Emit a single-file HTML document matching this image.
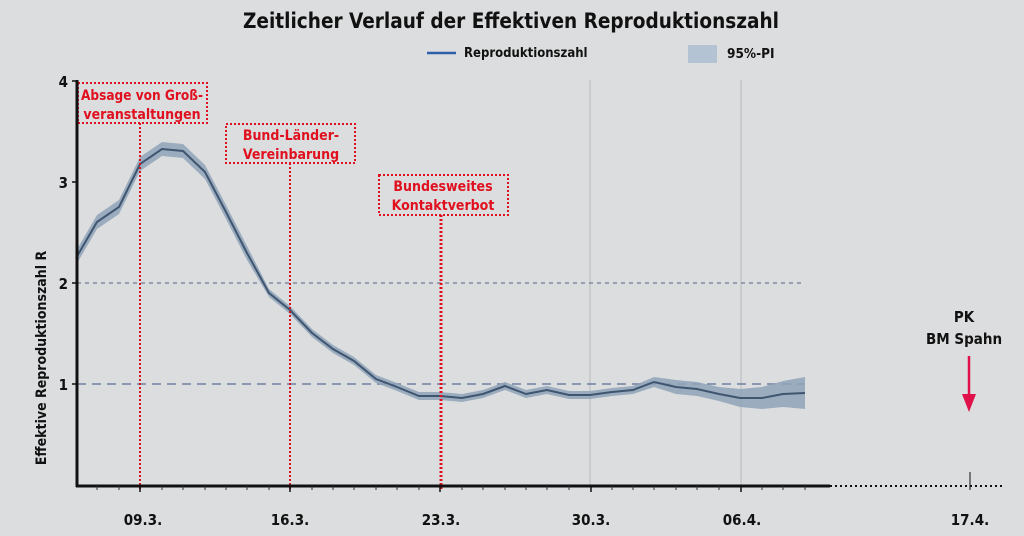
<!DOCTYPE html>
<html><head><meta charset="utf-8"><style>
html,body{margin:0;padding:0;background:#dcddde;}
svg{display:block;font-family:"DejaVu Sans Condensed","Liberation Sans",sans-serif;font-weight:bold;}
</style></head><body>
<svg width="1024" height="536" viewBox="0 0 1024 536" xmlns="http://www.w3.org/2000/svg">
<rect width="1024" height="536" fill="#dcddde"/>
<text x="511" y="28" font-size="21" text-anchor="middle" textLength="536" lengthAdjust="spacingAndGlyphs" fill="#111">Zeitlicher Verlauf der Effektiven Reproduktionszahl</text>
<line x1="427" y1="53" x2="456" y2="53" stroke="#2f5fa8" stroke-width="2.5"/>
<text x="464" y="57" font-size="13" fill="#111">Reproduktionszahl</text>
<rect x="688" y="45" width="29" height="18" fill="#b3c3d3"/>
<text x="727" y="58" font-size="13.5" fill="#111">95%-PI</text>
<line x1="590" y1="80" x2="590" y2="486" stroke="#c4c5c7" stroke-width="1.5"/>
<line x1="741" y1="80" x2="741" y2="486" stroke="#c4c5c7" stroke-width="1.5"/>
<line x1="77" y1="283" x2="805" y2="283" stroke="#6e7d94" stroke-width="1.2" stroke-dasharray="4,4"/>
<line x1="77" y1="384" x2="805" y2="384" stroke="#6e80a0" stroke-width="1.5" stroke-dasharray="9,6"/>
<polygon fill="#8ea3b8" opacity="0.85" points="76,251 97,215 119,200 140,157 162,142 183,144 205,165 226,205 247,246 269,289 290,306 312,329 333,345 354,357 376,375 397,383 419,392 440,392 462,394 483,390 505,382 526,390 547,386 569,391 590,391 612,388 633,386 654,377 676,380 697,382 719,387 740,389 762,387 783,381 805,377 805,409 783,407 762,409 740,407 719,401 697,396 676,394 654,387 633,394 612,396 590,399 569,399 547,394 526,398 505,390 483,398 462,402 440,400 419,400 397,391 376,383 354,365 333,353 312,337 290,314 269,297 247,260 226,219 205,179 183,158 162,156 140,171 119,214 97,229 76,265"/>
<polyline fill="none" stroke="#3f5570" stroke-width="2" points="76,258 97,222 119,207 140,164 162,149 183,151 205,172 226,212 247,253 269,293 290,310 312,333 333,349 354,361 376,379 397,387 419,396 440,396 462,398 483,394 505,386 526,394 547,390 569,395 590,395 612,392 633,390 654,382 676,387 697,389 719,394 740,398 762,398 783,394 805,393"/>
<g stroke="#e0101e" stroke-width="2" stroke-dasharray="2,2" fill="none">
<line x1="140" y1="123" x2="140" y2="490"/>
<line x1="290" y1="163" x2="290" y2="490"/>
<line x1="441" y1="215" x2="441" y2="490" stroke-width="3"/>
<rect x="78" y="83" width="129" height="40"/>
<rect x="226" y="124" width="129" height="39"/>
<rect x="379" y="175" width="129" height="40"/>
</g>
<g fill="#e0101e" font-size="14" text-anchor="middle">
<text x="142" y="100" textLength="122" lengthAdjust="spacingAndGlyphs">Absage von Groß-</text>
<text x="142" y="119">veranstaltungen</text>
<text x="291" y="140">Bund-Länder-</text>
<text x="291" y="159">Vereinbarung</text>
<text x="443" y="191">Bundesweites</text>
<text x="443" y="210">Kontaktverbot</text>
</g>
<line x1="77" y1="80" x2="77" y2="487" stroke="#111" stroke-width="3"/>
<line x1="76" y1="486" x2="830" y2="486" stroke="#111" stroke-width="3"/>
<line x1="830" y1="486" x2="1002" y2="486" stroke="#111" stroke-width="2" stroke-dasharray="2,3"/>
<line x1="970" y1="472" x2="970" y2="490" stroke="#111" stroke-width="1"/>
<g stroke="#333" stroke-width="1">
<line x1="97" y1="486" x2="97" y2="490"/><line x1="119" y1="486" x2="119" y2="490"/><line x1="162" y1="486" x2="162" y2="490"/><line x1="183" y1="486" x2="183" y2="490"/><line x1="205" y1="486" x2="205" y2="490"/><line x1="226" y1="486" x2="226" y2="490"/><line x1="247" y1="486" x2="247" y2="490"/><line x1="269" y1="486" x2="269" y2="490"/><line x1="312" y1="486" x2="312" y2="490"/><line x1="333" y1="486" x2="333" y2="490"/><line x1="354" y1="486" x2="354" y2="490"/><line x1="376" y1="486" x2="376" y2="490"/><line x1="397" y1="486" x2="397" y2="490"/><line x1="419" y1="486" x2="419" y2="490"/><line x1="462" y1="486" x2="462" y2="490"/><line x1="483" y1="486" x2="483" y2="490"/><line x1="505" y1="486" x2="505" y2="490"/><line x1="526" y1="486" x2="526" y2="490"/><line x1="547" y1="486" x2="547" y2="490"/><line x1="569" y1="486" x2="569" y2="490"/><line x1="612" y1="486" x2="612" y2="490"/><line x1="633" y1="486" x2="633" y2="490"/><line x1="654" y1="486" x2="654" y2="490"/><line x1="676" y1="486" x2="676" y2="490"/><line x1="697" y1="486" x2="697" y2="490"/><line x1="719" y1="486" x2="719" y2="490"/><line x1="762" y1="486" x2="762" y2="490"/><line x1="783" y1="486" x2="783" y2="490"/><line x1="805" y1="486" x2="805" y2="490"/>
</g>
<g stroke="#111" stroke-width="1.5">
<line x1="72" y1="81" x2="77" y2="81"/><line x1="72" y1="182" x2="77" y2="182"/><line x1="72" y1="283" x2="77" y2="283"/><line x1="72" y1="384" x2="77" y2="384"/>
<line x1="140" y1="486" x2="140" y2="492"/><line x1="290" y1="486" x2="290" y2="492"/><line x1="440" y1="486" x2="440" y2="492"/><line x1="591" y1="486" x2="591" y2="492"/><line x1="741" y1="486" x2="741" y2="492"/>
</g>
<g fill="#111" font-size="15" text-anchor="end">
<text x="68" y="87">4</text><text x="68" y="188">3</text><text x="68" y="289">2</text><text x="68" y="390">1</text>
</g>
<g fill="#111" font-size="15" text-anchor="middle">
<text x="143" y="525">09.3.</text><text x="290" y="525">16.3.</text><text x="441" y="525">23.3.</text><text x="591" y="525">30.3.</text><text x="742" y="525">06.4.</text><text x="970" y="525">17.4.</text>
</g>
<text transform="translate(46,358) rotate(-90)" font-size="14" text-anchor="middle" fill="#111">Effektive Reproduktionszahl R</text>
<g fill="#111" font-size="15" text-anchor="middle">
<text x="964" y="322">PK</text><text x="964" y="344">BM Spahn</text>
</g>
<line x1="969" y1="356" x2="969" y2="398" stroke="#e0104a" stroke-width="2.5"/>
<polygon points="962,394 976,394 969,412" fill="#e0104a"/>
</svg>
</body></html>
